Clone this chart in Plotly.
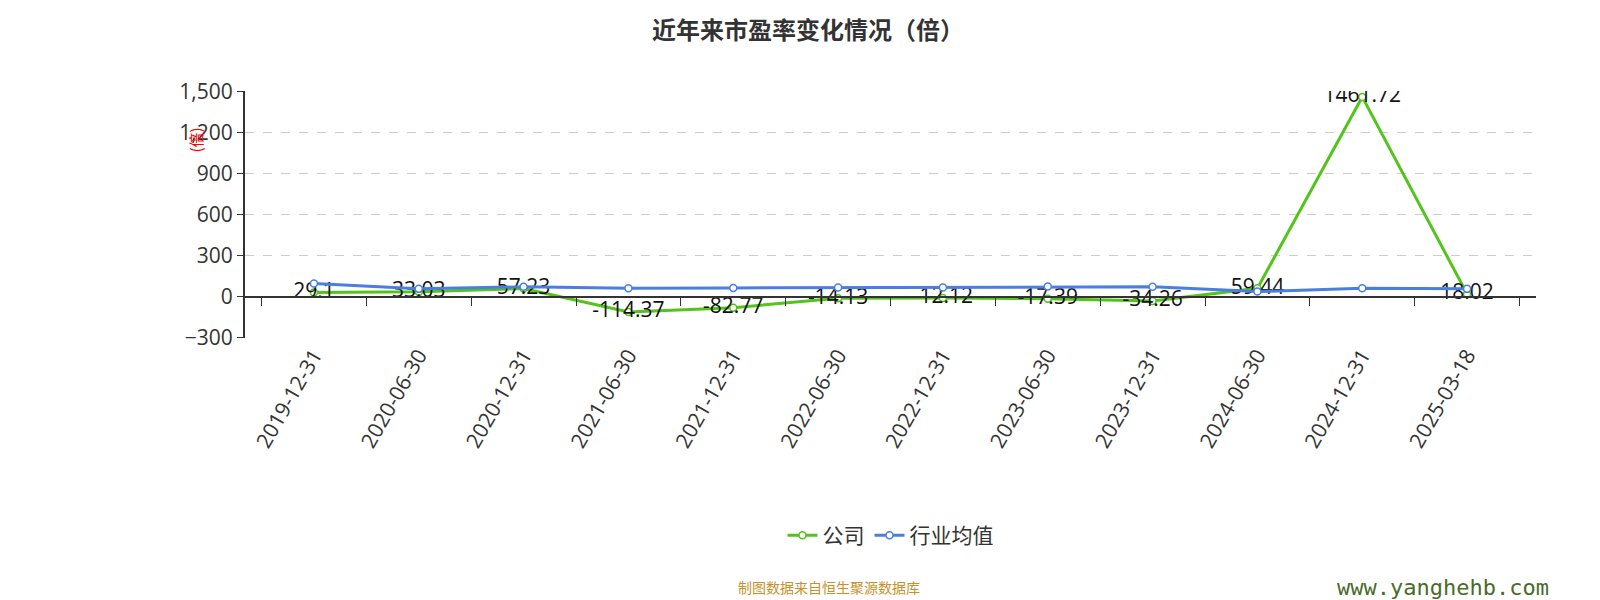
import plotly.graph_objects as go

dates = ["2019-12-31", "2020-06-30", "2020-12-31", "2021-06-30", "2021-12-31", "2022-06-30",
         "2022-12-31", "2023-06-30", "2023-12-31", "2024-06-30", "2024-12-31", "2025-03-18"]
company = [29.1, 33.03, 57.23, -114.37, -82.77, -14.13, -12.12, -17.39, -34.26, 59.44, 1461.72, 18.02]
industry = [95, 55, 70, 60, 62, 65, 65, 72, 70, 35, 60, 55]

font = "Open Sans, Noto Sans CJK SC, sans-serif"
fig = go.Figure()
fig.add_trace(go.Scatter(
    x=dates, y=company, name="公司", mode="lines+markers+text",
    line=dict(color="#52c41a", width=3),
    marker=dict(size=7, color="white", line=dict(color="#52c41a", width=1.5)),
    text=[str(v) for v in company], textposition="middle center",
    textfont=dict(size=21, color="#111"),
))
fig.add_trace(go.Scatter(
    x=dates, y=industry, name="行业均值", mode="lines+markers",
    line=dict(color="#4a7fe0", width=3),
    marker=dict(size=7, color="white", line=dict(color="#4a7fe0", width=1.5)),
))
# axis line through zero with ticks between categories
fig.add_trace(go.Scatter(x=dates, y=[None] * len(dates), xaxis="x2", showlegend=False, hoverinfo="skip"))

fig.update_layout(
    width=1600, height=600, paper_bgcolor="white", plot_bgcolor="white",
    font=dict(family=font, color="#333"),
    margin=dict(l=237, r=72, t=83, b=270, autoexpand=False),
    title=dict(text="<b>近年来市盈率变化情况（倍）</b>", x=0.5, y=0.963,
               xanchor="center", yanchor="middle",
               font=dict(size=24, color="#333", family="Noto Sans CJK SC")),
    xaxis=dict(type="category", tickangle=-60, tickfont=dict(size=21, color="#333"),
               showgrid=False, showline=False, ticks=""),
    xaxis2=dict(type="category", overlaying="x", anchor="free", position=0.166,
                side="bottom", showline=True, linecolor="#333", linewidth=2,
                ticks="outside", tickson="boundaries", ticklen=8, tickcolor="#333",
                showticklabels=False, showgrid=False, matches="x"),
    yaxis=dict(range=[-305, 1505], tickvals=[-300, 0, 300, 600, 900, 1200, 1500],
               tickformat=",", tickfont=dict(size=21, color="#333"),
               showline=True, linecolor="#333", linewidth=2, ticks="outside", ticklen=6,
               tickcolor="#333", gridcolor="#ccc", griddash="dash", zeroline=False),
    legend=dict(orientation="h", x=0.5, xanchor="center", y=-0.8, yanchor="middle",
                font=dict(size=21, color="#333", family="Noto Sans CJK SC")),
    showlegend=True,
)
fig.add_annotation(text="(倍)", xref="paper", yref="paper", x=-0.048, y=0.86, showarrow=False,
                   textangle=-90, font=dict(size=15, color="red", family="Noto Sans CJK SC"))
fig.add_annotation(text="制图数据来自恒生聚源数据库", xref="paper", yref="paper", x=0.452, y=-1.01,
                   yanchor="middle", showarrow=False,
                   font=dict(size=14, color="#c8902a", family="Noto Sans CJK SC"))
fig.add_annotation(text="www.yanghehb.com", xref="paper", yref="paper", x=1.012, y=-1.01,
                   xanchor="right", yanchor="middle", showarrow=False,
                   font=dict(size=22, color="#4a6b2a", family="DejaVu Sans Mono"))
fig.write_html("out.html")
